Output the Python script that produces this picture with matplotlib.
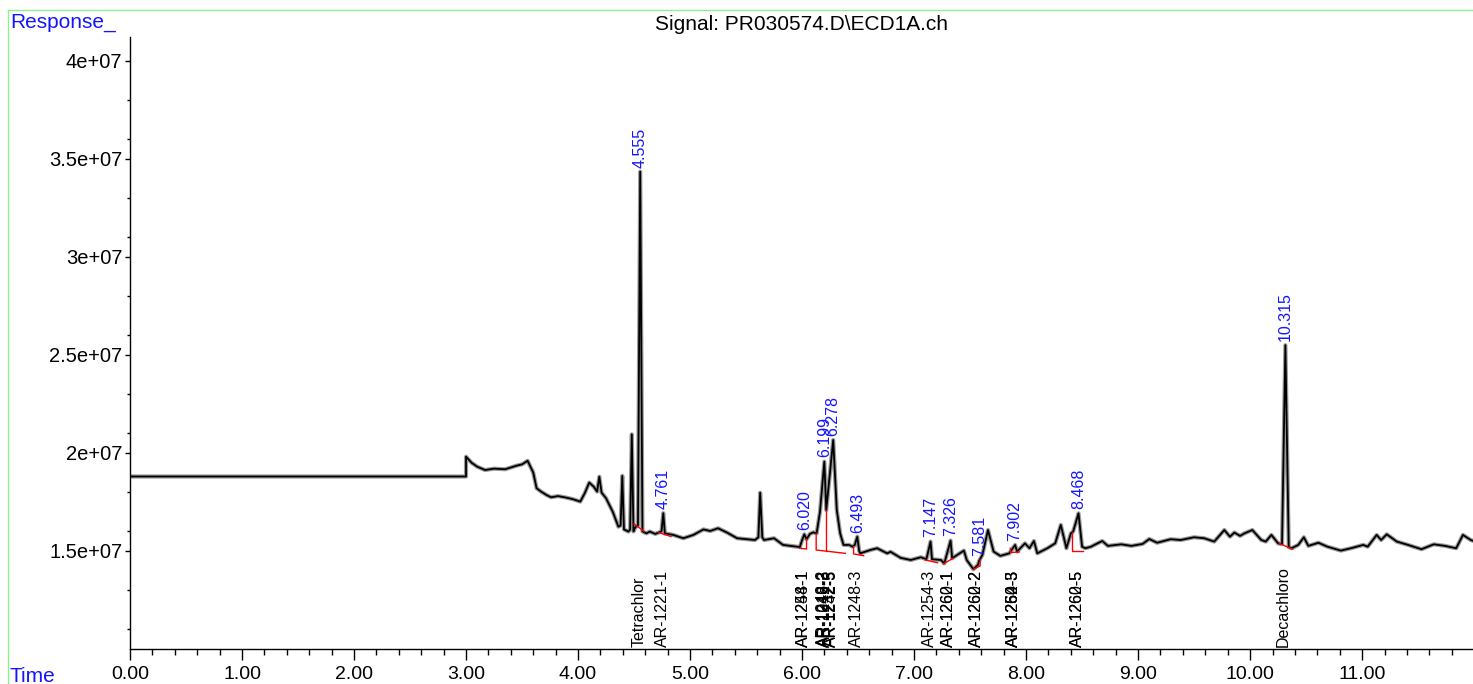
import matplotlib
matplotlib.use("Agg")
import matplotlib.pyplot as plt
from matplotlib.ticker import FuncFormatter, FixedLocator, MultipleLocator
from matplotlib.lines import Line2D

plt.rcParams['font.family'] = ['Liberation Sans', 'DejaVu Sans']

# chromatogram trace, time in minutes, response in millions
trace_t = [0.00, 3.00, 3.00, 3.05, 3.10, 3.17, 3.25, 3.35, 3.45, 3.50, 3.55, 3.60,
           3.63, 3.67, 3.72, 3.76, 3.82, 3.88, 3.95, 4.02, 4.06, 4.10, 4.14, 4.17,
           4.19, 4.21, 4.25, 4.31, 4.36, 4.38, 4.395, 4.41, 4.45, 4.465, 4.48, 4.495,
           4.51, 4.535, 4.555, 4.575, 4.61, 4.64, 4.69, 4.72, 4.745, 4.761, 4.775,
           4.85, 4.94, 5.03, 5.12, 5.18, 5.25, 5.33, 5.42, 5.51, 5.58, 5.61, 5.626,
           5.645, 5.66, 5.75, 5.83, 5.95, 5.98, 6.00, 6.02, 6.04, 6.07, 6.10, 6.13,
           6.16, 6.199, 6.216, 6.278, 6.31, 6.34, 6.37, 6.42, 6.45, 6.47, 6.493,
           6.51, 6.52, 6.61, 6.67, 6.76, 6.79, 6.88, 6.97, 7.06, 7.11, 7.147, 7.16,
           7.24, 7.27, 7.326, 7.34, 7.385, 7.445, 7.47, 7.53, 7.57, 7.581, 7.61,
           7.66, 7.71, 7.77, 7.85, 7.902, 7.92, 7.99, 8.03, 8.07, 8.10, 8.19, 8.26,
           8.31, 8.36, 8.40, 8.42, 8.468, 8.50, 8.53, 8.58, 8.61, 8.68, 8.73, 8.85,
           8.94, 9.04, 9.10, 9.17, 9.29, 9.38, 9.50, 9.59, 9.68, 9.77, 9.82, 9.86,
           9.91, 9.95, 10.02, 10.10, 10.14, 10.19, 10.25, 10.285, 10.315, 10.345,
           10.37, 10.43, 10.48, 10.52, 10.61, 10.69, 10.81, 10.90, 11.01, 11.05,
           11.13, 11.17, 11.22, 11.31, 11.41, 11.53, 11.64, 11.74, 11.84, 11.90,
           11.97, 12.00]
trace_v = [18.8, 18.8, 19.81, 19.5, 19.3, 19.13, 19.2, 19.17, 19.35, 19.42, 19.6, 19.0,
           18.2, 18.03, 17.85, 17.74, 17.8, 17.74, 17.65, 17.52, 17.95, 18.49, 18.28, 18.03,
           18.79, 17.98, 17.69, 17.0, 16.24, 16.3, 18.83, 16.1, 15.99, 16.1, 20.95, 16.0,
           16.2, 16.3, 34.35, 16.0, 15.9, 15.99, 15.87, 15.94, 16.0, 16.93, 15.9,
           15.82, 15.65, 15.82, 16.1, 16.02, 16.16, 15.94, 15.65, 15.6, 15.56, 15.7, 17.97,
           15.7, 15.56, 15.65, 15.31, 15.22, 15.2, 15.55, 15.85, 15.6, 15.87, 15.95, 15.9,
           17.0, 19.56, 17.09, 20.66, 17.09, 15.9, 15.31, 15.31, 15.22, 15.3, 15.73,
           15.0, 14.88, 15.05, 15.14, 14.88, 14.96, 14.65, 14.54, 14.68, 14.58, 15.48, 14.58,
           14.54, 14.37, 15.53, 14.63, 14.8, 15.02, 14.54, 14.07, 14.29, 14.5, 14.8,
           16.07, 14.97, 14.75, 14.88, 15.31, 14.97, 15.39, 15.14, 15.51, 14.88, 15.14, 15.39,
           16.33, 15.14, 15.9, 15.99, 16.92, 15.22, 15.14, 15.22, 15.31, 15.51, 15.26, 15.34,
           15.26, 15.36, 15.61, 15.42, 15.6, 15.56, 15.7, 15.65, 15.48, 16.07, 15.73, 15.94,
           15.77, 15.9, 16.07, 15.56, 15.48, 15.82, 15.39, 15.35, 25.5, 15.2,
           15.14, 15.31, 15.7, 15.26, 15.42, 15.22, 15.02, 15.14, 15.31, 15.22,
           15.82, 15.56, 15.85, 15.48, 15.31, 15.09, 15.34, 15.26, 15.14, 15.82,
           15.56, 15.5]

# integrated peaks: retention time and apex response (millions)
peak_rt = [4.555, 4.761, 6.020, 6.199, 6.278, 6.493, 7.147, 7.326, 7.581, 7.902, 8.468, 10.315]
peak_top = [34.35, 16.93, 15.85, 19.56, 20.66, 15.73, 15.48, 15.53, 14.54, 15.31, 16.92, 25.5]
peak_lbl = ["4.555", "4.761", "6.020", "6.199", "6.278", "6.493", "7.147", "7.326",
            "7.581", "7.902", "8.468", "10.315"]

# red integration baselines / drop lines
baselines = [
    [(4.50, 16.38), (4.59, 16.0)],
    [(4.72, 15.94), (4.83, 15.74)],
    [(5.98, 15.14), (6.04, 15.10), (6.04, 15.6)],
    [(6.126, 15.9), (6.126, 15.05), (6.386, 14.88)],
    [(6.216, 17.09), (6.216, 14.99)],
    [(6.46, 15.22), (6.46, 14.85), (6.55, 14.76)],
    [(7.10, 14.54), (7.21, 14.40)],
    [(7.26, 14.34), (7.35, 14.63)],
    [(7.53, 14.07), (7.59, 14.24), (7.59, 14.54)],
    [(7.86, 15.14), (7.86, 14.92), (7.94, 14.95)],
    [(8.41, 15.99), (8.41, 15.02), (8.51, 15.02)],
    [(10.26, 15.39), (10.38, 15.09)],
]

# compound names at expected retention times
cmp_names = ["Tetrachlor", "AR-1221-1", "AR-1248-1", "AR-1254-1", "AR-1248-2",
             "AR-1016-3", "AR-1242-3", "AR-1232-5", "AR-1242-5", "AR-1248-3",
             "AR-1254-3", "AR-1260-1", "AR-1262-1", "AR-1260-2", "AR-1262-2",
             "AR-1254-5", "AR-1260-3", "AR-1262-3", "AR-1260-5", "AR-1262-5", "Decachloro"]
cmp_rt = [4.546, 4.75, 6.01, 6.01, 6.19, 6.20, 6.21, 6.25, 6.26, 6.485,
          7.14, 7.31, 7.31, 7.56, 7.56, 7.885, 7.885, 7.885, 8.46, 8.46, 10.30]

M = 1e6
BLUE = "#1414ff"

fig = plt.figure(figsize=(14.73, 6.84), dpi=100)
ax = fig.add_axes([130 / 1473, 35 / 684, 1 - 130 / 1473, (649 - 37) / 684])

tv = [v * M for v in trace_v]
ax.plot(trace_t, tv, color="#9a9a9a", lw=3.0, solid_joinstyle="round")
ax.plot(trace_t, tv, color="black", lw=1.3, solid_joinstyle="round")

for seg in baselines:
    ax.plot([p[0] for p in seg], [p[1] * M for p in seg], color="red", lw=1.0)

for rt, top, lbl in zip(peak_rt, peak_top, peak_lbl):
    ax.annotate(lbl, (rt, top * M), xytext=(0, 3), textcoords="offset points",
                rotation=90, ha="center", va="bottom", color=BLUE, fontsize=11.5)

for rt, name in zip(cmp_rt, cmp_names):
    ax.text(rt, 10.08 * M, name, rotation=90, ha="center", va="bottom",
            fontsize=11.5, color="black")

ax.set_xlim(0, 11.99)
ax.set_ylim(10 * M, 41.22 * M)
for s in ["top", "right"]:
    ax.spines[s].set_visible(False)
ax.spines["left"].set_linewidth(1.0)
ax.spines["bottom"].set_linewidth(1.0)

ax.xaxis.set_major_locator(MultipleLocator(1))
ax.xaxis.set_minor_locator(MultipleLocator(0.2))
ax.xaxis.set_major_formatter(FuncFormatter(lambda x, p: "%.2f" % x))
ax.yaxis.set_major_locator(FixedLocator([15 * M, 20 * M, 25 * M, 30 * M, 35 * M, 40 * M]))
ax.yaxis.set_minor_locator(FixedLocator([m * M for m in
                                         [11, 13, 16, 18, 21, 23, 26, 28, 31, 33, 36, 38]]))
ax.yaxis.set_major_formatter(FuncFormatter(lambda y, p: "%g" % y))

ax.tick_params(axis="x", which="major", length=8, width=1, pad=4, labelsize=14)
ax.tick_params(axis="x", which="minor", length=4.5, width=1)
ax.tick_params(axis="y", which="major", length=3.5, width=1, pad=2, labelsize=14.5)
ax.tick_params(axis="y", which="minor", length=2, width=1)

fig.text(0.5 * (130 + 1473) / 1473, 1 - 25 / 684, "Signal: PR030574.D\\ECD1A.ch",
         ha="center", va="center", fontsize=15)
fig.text(10 / 1473, 1 - 22 / 684, "Response_", ha="left", va="center",
         fontsize=15, color=BLUE)
fig.text(10 / 1473, 1 - 677 / 684, "Time", ha="left", va="center",
         fontsize=15, color=BLUE)

# light green frame
fig.add_artist(Line2D([8 / 1473, 1], [1 - 9.5 / 684, 1 - 9.5 / 684],
                      transform=fig.transFigure, color="#90ee90", lw=1))
fig.add_artist(Line2D([8 / 1473, 8 / 1473], [0, 1 - 9.5 / 684],
                      transform=fig.transFigure, color="#90ee90", lw=1))

fig.savefig("out.png", dpi=100)
